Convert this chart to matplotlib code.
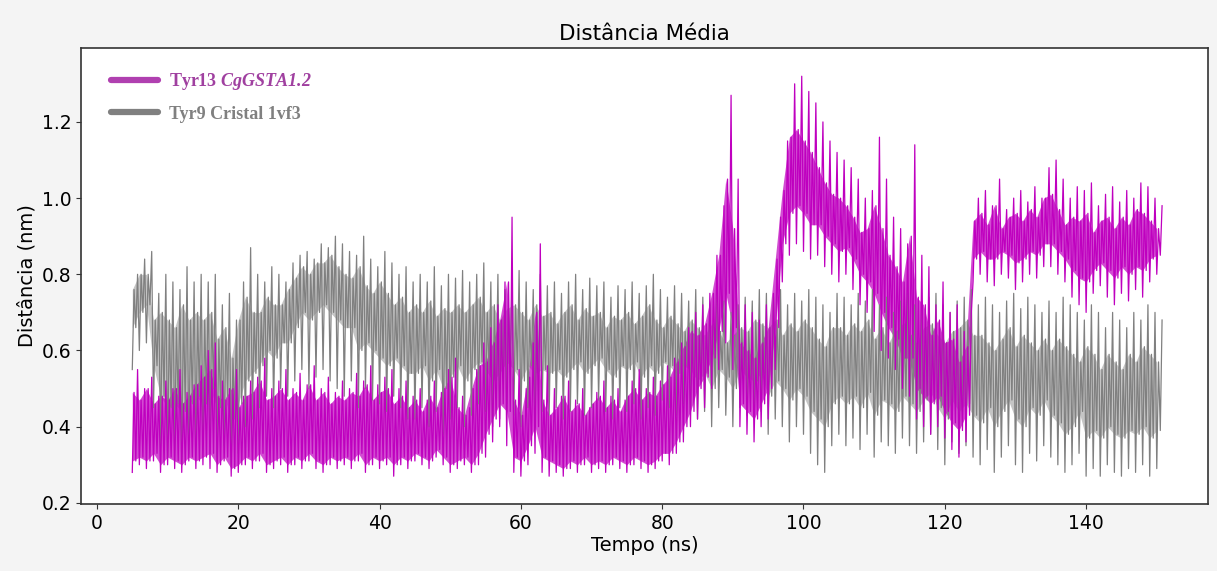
import numpy as np
import matplotlib.pyplot as plt
from matplotlib.lines import Line2D

plt.rcParams['mathtext.fontset'] = 'custom'
plt.rcParams['mathtext.it'] = 'Liberation Serif:italic:bold'
plt.rcParams['mathtext.rm'] = 'Liberation Serif:italic:bold'

# time axis in ns, one window per ns
tempo = np.arange(5, 151)

# Tyr13 CgGSTA1.2 : extreme low / high and dense band low / high per window (nm)
tyr13_lo = [0.28, 0.30, 0.29, 0.31, 0.28, 0.30, 0.29, 0.28, 0.31, 0.29,
            0.30, 0.29, 0.28, 0.31, 0.27, 0.28, 0.30, 0.29, 0.31, 0.28,
            0.29, 0.30, 0.28, 0.30, 0.29, 0.31, 0.29, 0.28, 0.30, 0.29,
            0.30, 0.29, 0.31, 0.28, 0.30, 0.29, 0.30, 0.27, 0.30, 0.29,
            0.31, 0.30, 0.29, 0.32, 0.30, 0.28, 0.29, 0.30, 0.28, 0.30,
            0.32, 0.36, 0.40, 0.35, 0.28, 0.27, 0.30, 0.33, 0.28, 0.27,
            0.28, 0.27, 0.29, 0.28, 0.30, 0.28, 0.29, 0.28, 0.30, 0.29,
            0.28, 0.30, 0.29, 0.28, 0.29, 0.31, 0.30, 0.33, 0.36, 0.40,
            0.42, 0.45, 0.50, 0.55, 0.62, 0.55, 0.40, 0.38, 0.36, 0.40,
            0.42, 0.55, 0.78, 0.85, 0.88, 0.86, 0.84, 0.85, 0.82, 0.80,
            0.78, 0.80, 0.76, 0.72, 0.70, 0.65, 0.60, 0.58, 0.55, 0.50,
            0.48, 0.42, 0.40, 0.38, 0.40, 0.37, 0.34, 0.32, 0.36, 0.78,
            0.80, 0.78, 0.77, 0.80, 0.79, 0.76, 0.78, 0.80, 0.79, 0.82,
            0.82, 0.80, 0.78, 0.74, 0.72, 0.70, 0.75, 0.77, 0.74, 0.72,
            0.75, 0.73, 0.76, 0.74, 0.78, 0.80]
tyr13_hi = [0.55, 0.50, 0.53, 0.48, 0.52, 0.50, 0.55, 0.49, 0.51, 0.56,
            0.60, 0.62, 0.52, 0.50, 0.55, 0.48, 0.52, 0.53, 0.58, 0.50,
            0.52, 0.55, 0.50, 0.54, 0.51, 0.56, 0.50, 0.53, 0.49, 0.52,
            0.50, 0.54, 0.52, 0.56, 0.51, 0.53, 0.55, 0.50, 0.52, 0.48,
            0.50, 0.47, 0.52, 0.49, 0.55, 0.58, 0.48, 0.45, 0.55, 0.62,
            0.66, 0.72, 0.78, 0.95, 0.55, 0.50, 0.62, 0.88, 0.56, 0.50,
            0.48, 0.52, 0.47, 0.50, 0.45, 0.49, 0.52, 0.48, 0.50, 0.47,
            0.52, 0.55, 0.50, 0.53, 0.52, 0.56, 0.58, 0.62, 0.66, 0.70,
            0.72, 0.75, 0.85, 0.98, 1.27, 1.05, 0.72, 0.70, 0.68, 0.72,
            0.75, 0.95, 1.15, 1.30, 1.32, 1.28, 1.25, 1.20, 1.15, 1.12,
            1.10, 1.08, 1.05, 1.00, 1.02, 1.16, 1.05, 0.95, 0.92, 0.88,
            1.14, 0.85, 0.82, 0.72, 0.78, 0.70, 0.72, 0.65, 0.70, 1.00,
            1.02, 0.98, 1.05, 0.97, 1.00, 1.02, 0.99, 1.03, 1.00, 1.08,
            1.10, 1.05, 1.00, 1.03, 1.02, 1.04, 0.98, 1.01, 1.03, 0.99,
            1.02, 1.00, 1.04, 1.03, 1.00, 0.98]
tyr13_core_lo = [0.31, 0.32, 0.31, 0.33, 0.30, 0.32, 0.31, 0.30, 0.32, 0.31,
                 0.32, 0.33, 0.30, 0.32, 0.29, 0.30, 0.32, 0.31, 0.33, 0.30,
                 0.31, 0.32, 0.30, 0.32, 0.31, 0.33, 0.31, 0.30, 0.32, 0.31,
                 0.32, 0.31, 0.33, 0.30, 0.32, 0.31, 0.32, 0.30, 0.32, 0.31,
                 0.33, 0.32, 0.31, 0.34, 0.32, 0.30, 0.31, 0.32, 0.30, 0.33,
                 0.38, 0.42, 0.46, 0.44, 0.32, 0.31, 0.35, 0.40, 0.32, 0.31,
                 0.30, 0.29, 0.31, 0.30, 0.32, 0.30, 0.31, 0.30, 0.32, 0.31,
                 0.30, 0.32, 0.31, 0.30, 0.31, 0.33, 0.33, 0.36, 0.40, 0.44,
                 0.50, 0.53, 0.58, 0.65, 0.75, 0.66, 0.46, 0.44, 0.42, 0.46,
                 0.50, 0.66, 0.88, 0.96, 0.98, 0.96, 0.93, 0.93, 0.90, 0.88,
                 0.86, 0.87, 0.84, 0.80, 0.78, 0.75, 0.70, 0.66, 0.63, 0.58,
                 0.58, 0.50, 0.48, 0.46, 0.48, 0.44, 0.41, 0.39, 0.43, 0.84,
                 0.86, 0.84, 0.84, 0.86, 0.85, 0.83, 0.84, 0.86, 0.85, 0.88,
                 0.88, 0.86, 0.84, 0.81, 0.79, 0.78, 0.81, 0.83, 0.81, 0.79,
                 0.82, 0.80, 0.82, 0.81, 0.84, 0.85]
tyr13_core_hi = [0.49, 0.47, 0.50, 0.46, 0.48, 0.47, 0.50, 0.46, 0.48, 0.51,
                 0.53, 0.55, 0.48, 0.47, 0.50, 0.45, 0.48, 0.49, 0.52, 0.47,
                 0.48, 0.50, 0.47, 0.49, 0.47, 0.51, 0.47, 0.49, 0.46, 0.48,
                 0.47, 0.49, 0.48, 0.51, 0.47, 0.49, 0.50, 0.46, 0.48, 0.45,
                 0.47, 0.44, 0.48, 0.45, 0.50, 0.53, 0.45, 0.43, 0.50, 0.56,
                 0.57, 0.62, 0.68, 0.78, 0.47, 0.43, 0.53, 0.70, 0.47, 0.43,
                 0.45, 0.48, 0.44, 0.46, 0.43, 0.46, 0.48, 0.45, 0.47, 0.44,
                 0.48, 0.50, 0.47, 0.49, 0.48, 0.51, 0.53, 0.57, 0.61, 0.65,
                 0.64, 0.67, 0.75, 0.85, 1.05, 0.92, 0.62, 0.60, 0.58, 0.62,
                 0.66, 0.84, 1.02, 1.16, 1.18, 1.15, 1.12, 1.08, 1.04, 1.01,
                 1.00, 0.98, 0.95, 0.91, 0.92, 0.98, 0.92, 0.85, 0.82, 0.78,
                 0.90, 0.74, 0.72, 0.64, 0.68, 0.62, 0.63, 0.57, 0.61, 0.94,
                 0.96, 0.93, 0.98, 0.92, 0.95, 0.96, 0.94, 0.97, 0.95, 1.00,
                 1.01, 0.97, 0.93, 0.95, 0.94, 0.96, 0.91, 0.94, 0.95, 0.92,
                 0.95, 0.93, 0.97, 0.96, 0.94, 0.92]

# Tyr9 Cristal 1vf3
tyr9_lo = [0.55, 0.60, 0.62, 0.45, 0.35, 0.32, 0.34, 0.30, 0.33, 0.36,
           0.34, 0.38, 0.32, 0.35, 0.30, 0.33, 0.40, 0.42, 0.45, 0.48,
           0.45, 0.50, 0.48, 0.52, 0.55, 0.50, 0.53, 0.55, 0.52, 0.50,
           0.48, 0.52, 0.45, 0.50, 0.47, 0.46, 0.44, 0.48, 0.45, 0.42,
           0.42, 0.45, 0.40, 0.44, 0.38, 0.42, 0.45, 0.40, 0.43, 0.46,
           0.44, 0.40, 0.42, 0.46, 0.43, 0.40, 0.45, 0.42, 0.44, 0.43,
           0.45, 0.42, 0.44, 0.46, 0.43, 0.45, 0.47, 0.44, 0.42, 0.45,
           0.44, 0.46, 0.42, 0.45, 0.43, 0.47, 0.45, 0.43, 0.46, 0.44,
           0.42, 0.44, 0.40, 0.45, 0.43, 0.40, 0.45, 0.43, 0.42, 0.44,
           0.38, 0.42, 0.40, 0.36, 0.40, 0.38, 0.33, 0.30, 0.28, 0.35,
           0.38, 0.35, 0.37, 0.34, 0.38, 0.32, 0.36, 0.35, 0.33, 0.37,
           0.35, 0.33, 0.36, 0.38, 0.34, 0.30, 0.36, 0.33, 0.35, 0.32,
           0.30, 0.34, 0.28, 0.32, 0.35, 0.30, 0.28, 0.33, 0.31, 0.35,
           0.32, 0.30, 0.28, 0.30, 0.33, 0.27, 0.29, 0.27, 0.30, 0.28,
           0.27, 0.29, 0.28, 0.30, 0.27, 0.29]
tyr9_hi = [0.80, 0.84, 0.86, 0.75, 0.80, 0.78, 0.76, 0.82, 0.78, 0.80,
           0.78, 0.80, 0.72, 0.75, 0.68, 0.78, 0.87, 0.80, 0.78, 0.82,
           0.80, 0.78, 0.83, 0.85, 0.86, 0.84, 0.88, 0.87, 0.90, 0.88,
           0.86, 0.85, 0.90, 0.84, 0.82, 0.86, 0.83, 0.80, 0.82, 0.78,
           0.80, 0.78, 0.82, 0.77, 0.80, 0.79, 0.81, 0.78, 0.80, 0.83,
           0.78, 0.80, 0.76, 0.79, 0.81, 0.78, 0.76, 0.80, 0.77, 0.78,
           0.75, 0.78, 0.80, 0.76, 0.79, 0.77, 0.78, 0.74, 0.77, 0.76,
           0.78, 0.75, 0.77, 0.80, 0.76, 0.74, 0.77, 0.75, 0.73, 0.76,
           0.74, 0.72, 0.75, 0.73, 0.70, 0.72, 0.74, 0.73, 0.76, 0.75,
           0.74, 0.76, 0.72, 0.75, 0.73, 0.76, 0.74, 0.72, 0.70, 0.75,
           0.74, 0.72, 0.75, 0.73, 0.76, 0.72, 0.74, 0.70, 0.73, 0.75,
           0.72, 0.70, 0.74, 0.75, 0.72, 0.70, 0.73, 0.74, 0.76, 0.72,
           0.74, 0.72, 0.70, 0.73, 0.75, 0.71, 0.74, 0.72, 0.70, 0.73,
           0.70, 0.74, 0.72, 0.70, 0.68, 0.72, 0.70, 0.66, 0.70, 0.68,
           0.66, 0.70, 0.68, 0.72, 0.70, 0.68]
tyr9_core_lo = [0.66, 0.70, 0.72, 0.56, 0.48, 0.45, 0.46, 0.44, 0.46, 0.48,
                0.46, 0.50, 0.45, 0.48, 0.42, 0.46, 0.52, 0.54, 0.56, 0.60,
                0.58, 0.62, 0.62, 0.66, 0.70, 0.68, 0.70, 0.72, 0.70, 0.68,
                0.66, 0.66, 0.60, 0.62, 0.60, 0.58, 0.56, 0.58, 0.56, 0.54,
                0.54, 0.56, 0.52, 0.55, 0.50, 0.53, 0.56, 0.52, 0.55, 0.57,
                0.55, 0.52, 0.54, 0.57, 0.55, 0.52, 0.56, 0.54, 0.55, 0.54,
                0.55, 0.53, 0.55, 0.57, 0.54, 0.56, 0.58, 0.55, 0.53, 0.56,
                0.55, 0.57, 0.53, 0.56, 0.54, 0.57, 0.56, 0.54, 0.56, 0.55,
                0.52, 0.54, 0.50, 0.55, 0.53, 0.50, 0.55, 0.53, 0.52, 0.54,
                0.48, 0.52, 0.50, 0.47, 0.50, 0.48, 0.44, 0.42, 0.40, 0.46,
                0.48, 0.46, 0.48, 0.45, 0.49, 0.43, 0.47, 0.46, 0.44, 0.48,
                0.46, 0.44, 0.47, 0.49, 0.45, 0.42, 0.47, 0.44, 0.46, 0.43,
                0.41, 0.45, 0.40, 0.44, 0.47, 0.42, 0.40, 0.45, 0.43, 0.47,
                0.43, 0.41, 0.38, 0.40, 0.44, 0.37, 0.39, 0.37, 0.40, 0.38,
                0.37, 0.39, 0.38, 0.40, 0.37, 0.39]
tyr9_core_hi = [0.76, 0.80, 0.80, 0.68, 0.70, 0.68, 0.66, 0.72, 0.68, 0.70,
                0.68, 0.70, 0.63, 0.66, 0.58, 0.68, 0.74, 0.70, 0.70, 0.74,
                0.72, 0.72, 0.76, 0.79, 0.82, 0.80, 0.83, 0.83, 0.85, 0.82,
                0.80, 0.79, 0.82, 0.77, 0.75, 0.78, 0.75, 0.72, 0.74, 0.70,
                0.72, 0.70, 0.73, 0.69, 0.71, 0.70, 0.72, 0.70, 0.72, 0.74,
                0.70, 0.72, 0.68, 0.71, 0.72, 0.70, 0.68, 0.72, 0.69, 0.70,
                0.67, 0.70, 0.72, 0.68, 0.71, 0.69, 0.70, 0.66, 0.69, 0.68,
                0.70, 0.67, 0.69, 0.72, 0.68, 0.66, 0.69, 0.67, 0.65, 0.68,
                0.66, 0.64, 0.67, 0.65, 0.62, 0.64, 0.66, 0.65, 0.68, 0.67,
                0.66, 0.68, 0.64, 0.67, 0.65, 0.68, 0.66, 0.63, 0.61, 0.66,
                0.66, 0.64, 0.67, 0.65, 0.68, 0.63, 0.66, 0.62, 0.65, 0.67,
                0.64, 0.62, 0.66, 0.67, 0.64, 0.62, 0.65, 0.66, 0.68, 0.64,
                0.64, 0.62, 0.60, 0.63, 0.66, 0.61, 0.64, 0.62, 0.60, 0.63,
                0.60, 0.63, 0.61, 0.59, 0.57, 0.61, 0.59, 0.55, 0.59, 0.57,
                0.55, 0.59, 0.57, 0.61, 0.59, 0.57]


def trace(t, lo, core_hi, core_lo, hi):
    # four readings per window: low spike, band top, band bottom, high spike
    x = np.column_stack([t, t + 0.25, t + 0.5, t + 0.75]).ravel()
    y = np.column_stack([lo, core_hi, core_lo, hi]).ravel()
    return x, y


fig = plt.figure(figsize=(12.17, 5.71), dpi=100, facecolor='#f4f4f4')
ax = fig.add_axes([0.0666, 0.1173, 0.926, 0.7986])

gx, gy = trace(tempo, tyr9_lo, tyr9_core_hi, tyr9_core_lo, tyr9_hi)
ax.fill_between(tempo, tyr9_core_lo, tyr9_core_hi, color='gray', alpha=0.45, lw=0)
ax.plot(gx, gy, color='gray', lw=0.9)

px, py = trace(tempo, tyr13_lo, tyr13_core_hi, tyr13_core_lo, tyr13_hi)
ax.fill_between(tempo, tyr13_core_lo, tyr13_core_hi, color='m', alpha=0.7, lw=0)
ax.plot(px, py, color='m', lw=0.9)

ax.set_xlim(-2.25, 157.25)
ax.set_ylim(0.197, 1.394)
ax.set_xticks(np.arange(0, 141, 20))
ax.set_yticks([0.2, 0.4, 0.6, 0.8, 1.0, 1.2])
ax.tick_params(labelsize=13.5, color='#333333')
for s in ax.spines.values():
    s.set_color('#333333')
    s.set_linewidth(1.2)

ax.set_title('Distância Média', fontsize=15.5, pad=6)
ax.set_xlabel('Tempo (ns)', fontsize=14, labelpad=2)
ax.set_ylabel('Distância (nm)', fontsize=14)

handles = [Line2D([], [], color='#b040b0', lw=4.5, solid_capstyle='round'),
           Line2D([], [], color='gray', lw=4.5, solid_capstyle='round')]
leg = ax.legend(handles, [r'Tyr13 $\mathit{CgGSTA1.2}$', 'Tyr9 Cristal 1vf3'],
                loc='upper left', frameon=False, handlelength=2.6,
                handletextpad=0.6,
                prop={'family': 'Liberation Serif', 'weight': 'bold', 'size': 13},
                labelspacing=0.75, bbox_to_anchor=(0.012, 0.985))
for txt, c in zip(leg.get_texts(), ['#a040a0', 'gray']):
    txt.set_color(c)

fig.savefig('out.png', dpi=100, facecolor=fig.get_facecolor())
